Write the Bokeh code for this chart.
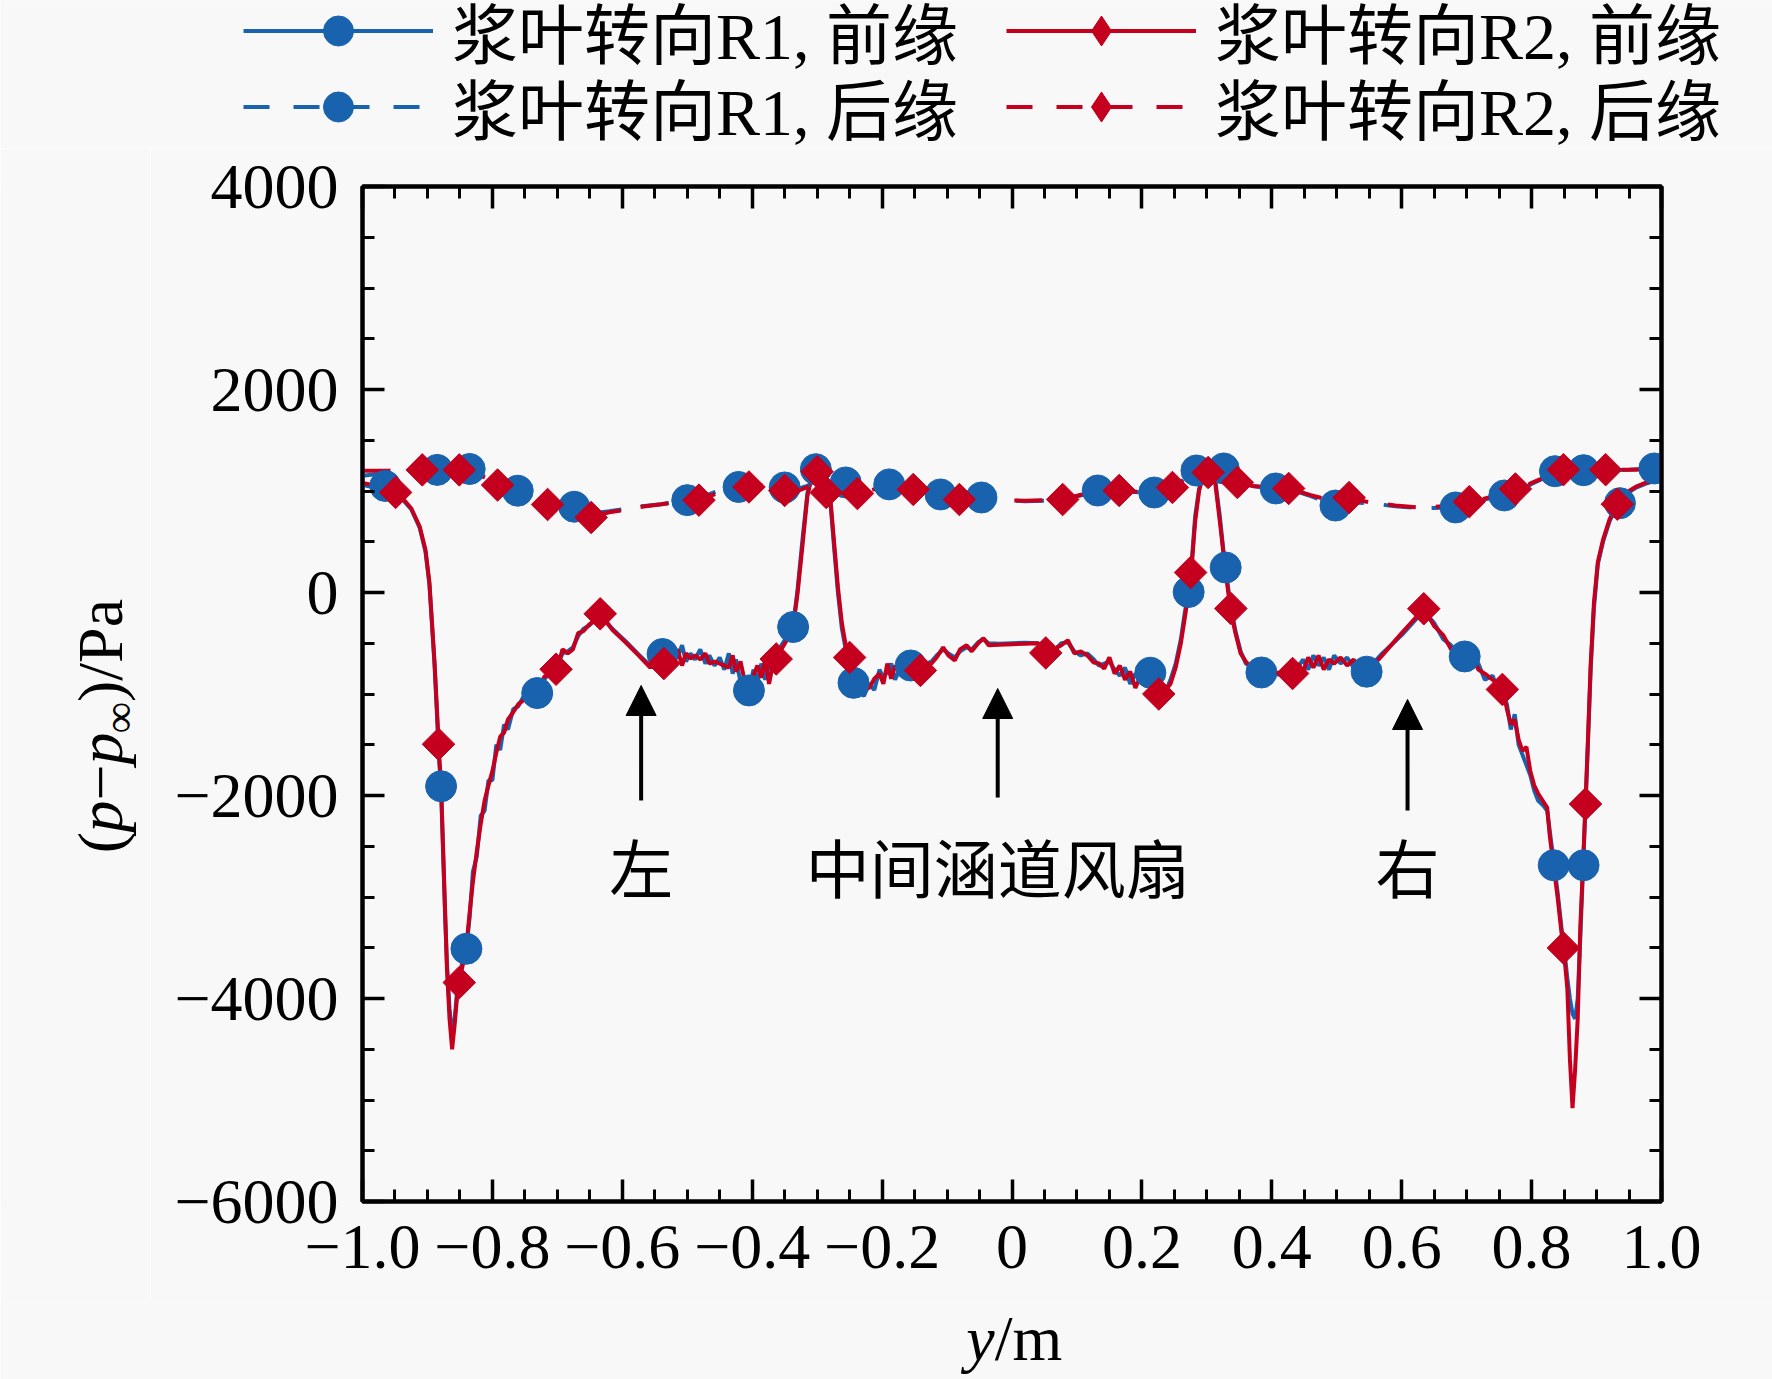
import math
import numpy as np
from bokeh.plotting import figure
from bokeh.layouts import column, row
from bokeh.models import (Range1d, LinearAxis, FixedTicker, CustomJSTickFormatter,
                          Legend, LegendItem, Label, Arrow, NormalHead)
from bokeh.embed import file_html
from bokeh.resources import INLINE

# ---------------- data ----------------
# leading edge (前缘), solid lines
le_x = [-1.000, -0.985, -0.970, -0.955, -0.940, -0.925, -0.912, -0.903, -0.897, -0.893,
        -0.889, -0.885, -0.882, -0.879, -0.876, -0.873, -0.870, -0.866, -0.862, -0.858,
        -0.854, -0.850, -0.845, -0.840, -0.835, -0.830, -0.824, -0.818, -0.812, -0.806,
        -0.800, -0.794, -0.788, -0.782, -0.776, -0.768, -0.760, -0.750, -0.740, -0.730,
        -0.720, -0.710, -0.700, -0.692, -0.684, -0.676, -0.668, -0.660, -0.650, -0.642,
        -0.634, -0.615, -0.595, -0.575, -0.557, -0.548, -0.538, -0.530, -0.522, -0.515,
        -0.508, -0.502, -0.495, -0.488, -0.480, -0.472, -0.466, -0.458, -0.450, -0.443,
        -0.436, -0.430, -0.425, -0.418, -0.412, -0.405, -0.398, -0.392, -0.386, -0.380,
        -0.374, -0.368, -0.362, -0.355, -0.345, -0.337, -0.330, -0.322, -0.315, -0.308,
        -0.302, -0.295, -0.288, -0.280, -0.274, -0.268, -0.262, -0.256, -0.250, -0.244,
        -0.236, -0.228, -0.220, -0.212, -0.204, -0.198, -0.192, -0.186, -0.180, -0.172,
        -0.164, -0.156, -0.148, -0.140, -0.132, -0.124, -0.116, -0.106, -0.098, -0.088,
        -0.080, -0.070, -0.062, -0.052, -0.044, -0.036, -0.020, 0.000, 0.020, 0.040,
        0.052, 0.064, 0.076, 0.086, 0.096, 0.106, 0.116, 0.126, 0.134, 0.142,
        0.150, 0.158, 0.166, 0.174, 0.182, 0.190, 0.198, 0.206, 0.213, 0.220,
        0.228, 0.236, 0.244, 0.252, 0.260, 0.266, 0.272, 0.276, 0.282, 0.288,
        0.296, 0.304, 0.312, 0.320, 0.328, 0.336, 0.344, 0.352, 0.360, 0.372,
        0.384, 0.396, 0.410, 0.420, 0.432, 0.440, 0.448, 0.456, 0.464, 0.472,
        0.480, 0.488, 0.496, 0.506, 0.516, 0.526, 0.536, 0.546, 0.570, 0.600,
        0.634, 0.650, 0.664, 0.676, 0.688, 0.698, 0.708, 0.718, 0.728, 0.740,
        0.748, 0.756, 0.762, 0.768, 0.774, 0.780, 0.786, 0.792, 0.798, 0.804,
        0.810, 0.818, 0.824, 0.828, 0.834, 0.840, 0.846, 0.850, 0.855, 0.859,
        0.863, 0.867, 0.871, 0.875, 0.879, 0.883, 0.887, 0.891, 0.896, 0.902,
        0.910, 0.920, 0.932, 0.945, 0.960, 0.975, 0.990, 1.000]

le_r2 = [1080, 1060, 1040, 1000, 940, 830, 650, 420, 100, -300,
         -700, -1200, -1600, -1900, -2500, -3100, -3700, -4200, -4500, -4250,
         -3950, -3800, -3650, -3480, -3150, -2850, -2550, -2280, -2050, -1900,
         -1760, -1580, -1420, -1380, -1250, -1180, -1100, -1050, -1000, -960,
         -830, -790, -740, -560, -600, -560, -400, -380, -310, -280,
         -210, -370, -490, -620, -740, -680, -620, -660, -700, -560,
         -720, -600, -650, -620, -660, -600, -700, -680, -700, -720,
         -740, -620, -780, -680, -860, -950, -820, -720, -840, -660,
         -900, -700, -650, -560, -450, -340, 0, 500, 950, 1150,
         1210, 1180, 1100, 950, 500, 50, -300, -520, -640, -880,
         -1000, -950, -940, -850, -800, -900, -700, -850, -720, -800,
         -740, -720, -780, -760, -720, -700, -640, -540, -620, -670,
         -560, -520, -580, -500, -450, -520, -515, -510, -505, -500,
         -590, -560, -520, -470, -600, -580, -620, -690, -700, -750,
         -640, -800, -720, -860, -780, -940, -820, -860, -800, -990,
         -1020, -960, -900, -740, -500, -250, 0, 200, 700, 1000,
         1200, 1210, 1130, 700, 250, -150, -400, -600, -680, -760,
         -790, -800, -790, -810, -800, -700, -780, -640, -740, -620,
         -760, -660, -700, -640, -720, -660, -780, -790, -620, -400,
         -160, -330, -420, -560, -600, -640, -620, -760, -800, -860,
         -900, -960, -1150, -1300, -1250, -1450, -1560, -1520, -1760, -1900,
         -1980, -2060, -2120, -2400, -2700, -3000, -3350, -3550, -3900, -4600,
         -5080, -4700, -4200, -3300, -2700, -2080, -1400, -700, -100, 300,
         520, 720, 880, 980, 1040, 1080, 1110, 1120]

le_r1 = [1060, 1040, 1030, 1000, 930, 820, 640, 400, 80, -320,
         -720, -1250, -1650, -1950, -2550, -3150, -3650, -4100, -4350, -4200,
         -3900, -3750, -3600, -3500, -3200, -2750, -2600, -2200, -2150, -1850,
         -1850, -1500, -1550, -1300, -1350, -1150, -1120, -1000, -1020, -990,
         -860, -760, -720, -600, -580, -540, -430, -360, -320, -260,
         -220, -360, -480, -610, -720, -650, -600, -640, -580, -640,
         -520, -680, -600, -660, -560, -700, -620, -720, -640, -760,
         -600, -800, -660, -880, -900, -970, -760, -880, -700, -860,
         -720, -680, -640, -520, -420, -330, 40, 560, 980, 1160,
         1200, 1170, 1080, 920, 450, 0, -350, -560, -700, -890,
         -980, -1020, -900, -960, -760, -840, -780, -700, -860, -740,
         -820, -710, -740, -780, -700, -680, -620, -560, -600, -640,
         -580, -540, -560, -490, -460, -500, -505, -500, -495, -500,
         -570, -580, -500, -490, -580, -620, -600, -660, -720, -700,
         -680, -760, -820, -740, -900, -800, -880, -780, -790, -940,
         -1000, -980, -860, -700, -460, -200, 20, 250, 750, 1020,
         1190, 1220, 1150, 750, 260, -100, -380, -580, -700, -740,
         -790, -780, -810, -780, -790, -740, -660, -760, -620, -720,
         -640, -760, -620, -700, -640, -740, -760, -770, -600, -420,
         -180, -300, -460, -520, -640, -620, -700, -700, -860, -820,
         -960, -1000, -1100, -1350, -1200, -1500, -1600, -1700, -1800, -1950,
         -2050, -2100, -2150, -2350, -2650, -2950, -3300, -3500, -3800, -4000,
         -4150, -4200, -4000, -3400, -2750, -2100, -1450, -750, -150, 280,
         500, 700, 870, 970, 1030, 1070, 1100, 1110]

# trailing edge (后缘), dashed lines
te_x = [-1.000, -0.960, -0.920, -0.880, -0.840, -0.810, -0.790, -0.760, -0.730, -0.700,
        -0.670, -0.645, -0.620, -0.600, -0.570, -0.540, -0.500, -0.470, -0.440, -0.420,
        -0.400, -0.370, -0.350, -0.330, -0.310, -0.295, -0.280, -0.256, -0.238, -0.210,
        -0.189, -0.170, -0.152, -0.130, -0.110, -0.081, -0.047, -0.020, 0.020, 0.050,
        0.078, 0.105, 0.132, 0.165, 0.200, 0.219, 0.247, 0.270, 0.290, 0.310,
        0.326, 0.347, 0.370, 0.406, 0.426, 0.460, 0.500, 0.520, 0.550, 0.590,
        0.630, 0.683, 0.704, 0.730, 0.758, 0.777, 0.800, 0.838, 0.880, 0.914,
        0.950, 0.989, 1.000]
te_r2 = [1200, 1200, 1210, 1210, 1210, 1130, 1060, 990, 900, 860,
         820, 750, 790, 810, 845, 870, 905, 940, 1010, 1045,
         1060, 1030, 1005, 1000, 1050, 1020, 985, 1040, 975, 1020,
         1050, 1030, 1015, 985, 955, 916, 925, 910, 905, 910,
         916, 960, 1000, 1005, 990, 1000, 1035, 1110, 1170, 1185,
         1150, 1084, 1050, 1025, 1025, 960, 890, 926, 890, 857,
         835, 860, 887, 930, 975, 1005, 1080, 1182, 1205, 1210,
         1210, 1215, 1215]
te_r1 = [1150, 1180, 1205, 1208, 1215, 1130, 1050, 1003, 920, 870,
         845, 780, 800, 820, 850, 870, 910, 960, 1030, 1060,
         1060, 1050, 1035, 1020, 1060, 1080, 1060, 1084, 1000, 1040,
         1060, 1040, 1000, 980, 966, 930, 936, 910, 900, 905,
         915, 955, 1005, 1000, 985, 985, 1030, 1140, 1202, 1210,
         1222, 1100, 1050, 1025, 1020, 950, 857, 890, 880, 850,
         830, 838, 870, 920, 956, 990, 1070, 1182, 1202, 1205,
         1210, 1222, 1222]

# marker positions
le_r1_mx = [-0.965, -0.879, -0.840, -0.731, -0.538, -0.405, -0.337, -0.302, -0.244, -0.156,
            0.213, 0.272, 0.329, 0.384, 0.546, 0.697, 0.834, 0.880, 0.936]
le_r1_my = [1050, -1909, -3510, -991, -606, -965, -340, 1215, -890, -719,
            -790, 5, 246, -788, -780, -630, -2687, -2687, 880]
le_r2_mx = [-0.949, -0.883, -0.851, -0.702, -0.634, -0.536, -0.363, -0.300, -0.250, -0.141,
            0.052, 0.226, 0.275, 0.337, 0.432, 0.634, 0.755, 0.849, 0.883, 0.932]
le_r2_my = [986, -1495, -3843, -756, -210, -700, -655, 1190, -640, -768,
            -595, -1000, 197, -158, -798, -160, -955, -3502, -2084, 870]
te_r1_mx = [-0.885, -0.835, -0.761, -0.674, -0.500, -0.421, -0.350, -0.256, -0.189, -0.110,
            -0.047, 0.132, 0.219, 0.284, 0.326, 0.406, 0.498, 0.683, 0.758, 0.836, 0.880, 0.989]
te_r1_my = [1208, 1217, 1003, 845, 910, 1040, 1035, 1084, 1065, 966,
            936, 1005, 985, 1202, 1222, 1025, 857, 838, 956, 1195, 1205, 1222]
te_r2_mx = [-0.908, -0.851, -0.792, -0.715, -0.648, -0.482, -0.405, -0.350, -0.286, -0.238,
            -0.152, -0.081, 0.078, 0.165, 0.247, 0.302, 0.347, 0.426, 0.519, 0.704, 0.775, 0.849, 0.914]
te_r2_my = [1208, 1208, 1059, 867, 739, 910, 1040, 1005, 985, 975,
            1015, 916, 916, 1005, 1035, 1182, 1084, 1025, 935, 895, 1020, 1210, 1210]

labels = ["浆叶转向R1, 前缘", "浆叶转向R2, 前缘", "浆叶转向R1, 后缘", "浆叶转向R2, 后缘"]
x_ticks = [-1.0, -0.8, -0.6, -0.4, -0.2, 0.0, 0.2, 0.4, 0.6, 0.8, 1.0]
y_ticks = [-6000, -4000, -2000, 0, 2000, 4000]
notes = ["左", "中间涵道风扇", "右"]
note_x = [-0.571, -0.022, 0.609]

# ---------------- style ----------------
BLUE = "#1862ae"
RED = "#c4001e"
BG = "#f8f8f8"
SERIF = "Liberation Serif"
MIXED = "'Liberation Serif', 'Noto Sans CJK SC'"
CJK = "Noto Sans CJK SC"
LW = 4
DASH = "28 20"
CIRC = 31
DIAM = 23

W, H = 1772, 1379
TOP_H = 148          # legend strip
LEFT_W = 150         # y-title strip
MAIN_H = 1301 - TOP_H
BOT_H = H - TOP_H - MAIN_H
MAIN_W = W - LEFT_W

def blank(width, height, y_range=None):
    return figure(width=width, height=height, title=None,
                  x_range=Range1d(0, width),
                  y_range=y_range if y_range is not None else Range1d(0, height),
                  output_backend="svg", toolbar_location=None,
                  x_axis_type=None, y_axis_type=None,
                  min_border=0, min_border_left=0, min_border_right=0,
                  min_border_top=0, min_border_bottom=0, outline_line_color=None,
                  background_fill_color=BG, border_fill_color=BG)

# ---------------- main plot ----------------
p = figure(width=MAIN_W, height=MAIN_H, x_range=Range1d(-1, 1), y_range=Range1d(-6000, 4000),
           output_backend="svg", toolbar_location=None,
           min_border_left=362 - LEFT_W, min_border_right=W - 1661,
           min_border_top=186 - TOP_H, min_border_bottom=TOP_H + MAIN_H - 1201,
           background_fill_color=BG, border_fill_color=BG,
           outline_line_color="black", outline_line_width=4)
p.grid.visible = False

x_minor = [round(-1 + 0.05 * i, 2) for i in range(41)]
y_minor = [-6000 + 500 * i for i in range(21)]

fmt_x = CustomJSTickFormatter(code="""
const v = Math.round(tick*10)/10;
if (v === 0) return "0";
return (v < 0 ? "\\u2212" : "") + Math.abs(v).toFixed(1);
""")
fmt_y = CustomJSTickFormatter(code="""
const v = Math.round(tick);
return (v < 0 ? "\\u2212" : "") + Math.abs(v);
""")

def style(ax, size="64px"):
    ax.axis_line_width = 4
    ax.major_tick_line_width = 3.5
    ax.minor_tick_line_width = 3
    ax.major_tick_in = 22
    ax.major_tick_out = 0
    ax.minor_tick_in = 12
    ax.minor_tick_out = 0
    ax.major_label_text_font = SERIF
    ax.major_label_text_font_size = size
    ax.major_label_text_color = "black"
    ax.axis_label = None

p.xaxis.ticker = FixedTicker(ticks=x_ticks, minor_ticks=x_minor)
p.xaxis.formatter = fmt_x
p.yaxis.ticker = FixedTicker(ticks=y_ticks, minor_ticks=y_minor)
p.yaxis.formatter = fmt_y
style(p.xaxis[0]); style(p.yaxis[0])
p.xaxis.major_label_standoff = 24
p.yaxis.major_label_standoff = 24

top = LinearAxis(ticker=FixedTicker(ticks=x_ticks, minor_ticks=x_minor),
                 major_label_overrides={t: "" for t in x_ticks})
right = LinearAxis(ticker=FixedTicker(ticks=y_ticks, minor_ticks=y_minor),
                   major_label_overrides={t: "" for t in y_ticks})
style(top, "0px"); style(right, "0px")
top.major_label_standoff = 0
right.major_label_standoff = 0
p.add_layout(top, "above")
p.add_layout(right, "right")

p.line(le_x, le_r1, line_color=BLUE, line_width=LW)
p.line(le_x, le_r2, line_color=RED, line_width=LW)
p.line(te_x, te_r1, line_color=BLUE, line_width=LW, line_dash=DASH)
p.line(te_x, te_r2, line_color=RED, line_width=LW, line_dash=DASH)
p.scatter(le_r1_mx, le_r1_my, marker="circle", size=CIRC, fill_color=BLUE, line_color=BLUE)
p.scatter(te_r1_mx, te_r1_my, marker="circle", size=CIRC, fill_color=BLUE, line_color=BLUE)
p.scatter(le_r2_mx, le_r2_my, marker="square", angle=math.pi / 4, size=DIAM,
          fill_color=RED, line_color=RED)
p.scatter(te_r2_mx, te_r2_my, marker="square", angle=math.pi / 4, size=DIAM,
          fill_color=RED, line_color=RED)

for t, x in zip(notes, note_x):
    p.add_layout(Label(x=x, y=-2680, text=t, text_font=CJK, text_font_size="64px",
                       text_align="center", text_baseline="middle", text_color="black"))

arrow_tail = [-2049, -2020, -2148]
arrow_tip = [-916, -946, -1054]
for x, y0, y1 in zip(note_x, arrow_tail, arrow_tip):
    p.add_layout(Arrow(end=NormalHead(size=30, fill_color="black", line_color="black"),
                       x_start=x, y_start=y0, x_end=x, y_end=y1,
                       line_width=4, line_color="black"))

# ---------------- legend strip ----------------
lg = blank(W, TOP_H)
nan = np.array([np.nan])
proxies = []
for color, dash, mk in [(BLUE, "solid", "circle"), (RED, "solid", "diamond"),
                        (BLUE, "26 24", "circle"), (RED, "26 24", "diamond")]:
    ln = lg.line(nan, nan, line_color=color, line_width=LW, line_dash=dash)
    sc = lg.scatter(nan, nan, marker=mk, fill_color=color, line_color=color)
    proxies.append([ln, sc])

row_loc_y = [70, -6]
for r in range(2):
    its = [LegendItem(label=labels[2 * r + c], renderers=proxies[2 * r + c]) for c in range(2)]
    leg = Legend(items=its, location=(243, row_loc_y[r]), orientation="horizontal",
                 padding=0, margin=0, spacing=34, border_line_color=None,
                 background_fill_alpha=0, glyph_width=190, glyph_height=75,
                 label_standoff=19, label_width=520,
                 label_text_font=MIXED, label_text_font_size="66px",
                 label_text_color="black")
    lg.add_layout(leg, "center")

# ---------------- y title strip (frame aligned with the main plot's frame) ----------------
lf = blank(LEFT_W, MAIN_H, y_range=Range1d(-6000, 4000))

def piece(f, x, y, t, size="64px", style_="normal", angle=0.0):
    f.add_layout(Label(x=x, y=y, text=t, angle=angle, text_font=SERIF, text_font_size=size,
                       text_font_style=style_, text_align="center", text_baseline="middle",
                       text_color="black"))

A = math.pi / 2
piece(lf, 100, -2463, "(", angle=A)
piece(lf, 100, -2207, "p", style_="italic", angle=A)
piece(lf, 100, -1872, "\u2212", angle=A)
piece(lf, 100, -1537, "p", style_="italic", angle=A)
piece(lf, 119, -1231, "\u221e", size="44px", angle=A)
piece(lf, 100, -571, ")/Pa", angle=A)

# ---------------- x title strip ----------------
bf = blank(W, BOT_H)
piece(bf, 980, H - 1338, "y", style_="italic")
piece(bf, 1028, H - 1338, "/m")

layout = column(lg, row(lf, p), bf)
open("out.html", "w").write(file_html(layout, INLINE))
